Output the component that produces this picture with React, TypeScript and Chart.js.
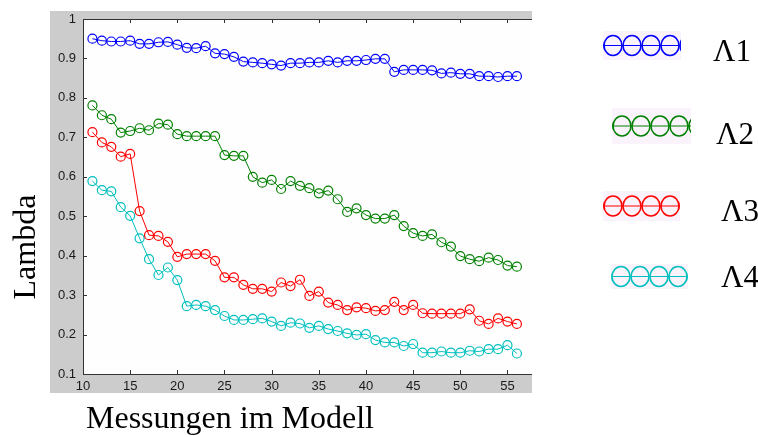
import { useEffect, useRef } from 'react';
import { Chart, registerables } from 'chart.js';

Chart.register(...registerables);

// Measurement index (x axis)
const MEASUREMENTS = [
  11, 12, 13, 14, 15, 16, 17, 18, 19, 20, 21, 22, 23, 24, 25, 26, 27, 28, 29, 30, 31, 32, 33,
  34, 35, 36, 37, 38, 39, 40, 41, 42, 43, 44, 45, 46, 47, 48, 49, 50, 51, 52, 53, 54, 55, 56,
];

const LAMBDA_1 = [
  0.95, 0.945, 0.943, 0.943, 0.945, 0.937, 0.937, 0.941, 0.942, 0.935, 0.927, 0.926, 0.931,
  0.913, 0.911, 0.904, 0.892, 0.89, 0.888, 0.885, 0.882, 0.888, 0.888, 0.89, 0.89, 0.894,
  0.89, 0.894, 0.894, 0.896, 0.899, 0.899, 0.866, 0.871, 0.871, 0.871, 0.87, 0.862, 0.864,
  0.861, 0.861, 0.855, 0.855, 0.853, 0.855, 0.855,
];

const LAMBDA_2 = [
  0.781, 0.756, 0.746, 0.712, 0.716, 0.723, 0.718, 0.735, 0.732, 0.708, 0.703, 0.703, 0.703,
  0.703, 0.655, 0.653, 0.653, 0.6, 0.585, 0.592, 0.569, 0.589, 0.577, 0.571, 0.558, 0.565,
  0.543, 0.511, 0.52, 0.503, 0.494, 0.494, 0.503, 0.475, 0.457, 0.45, 0.454, 0.434, 0.423,
  0.399, 0.391, 0.386, 0.395, 0.389, 0.375, 0.372,
];

const LAMBDA_3 = [
  0.713, 0.687, 0.676, 0.651, 0.658, 0.513, 0.452, 0.45, 0.435, 0.397, 0.404, 0.404, 0.404,
  0.387, 0.345, 0.345, 0.326, 0.316, 0.316, 0.309, 0.332, 0.323, 0.339, 0.298, 0.309, 0.281,
  0.275, 0.262, 0.269, 0.267, 0.26, 0.262, 0.283, 0.262, 0.275, 0.254, 0.253, 0.253, 0.253,
  0.253, 0.264, 0.235, 0.227, 0.241, 0.233, 0.227,
];

const LAMBDA_4 = [
  0.589, 0.566, 0.563, 0.523, 0.501, 0.444, 0.391, 0.351, 0.37, 0.338, 0.272, 0.275, 0.272,
  0.262, 0.247, 0.237, 0.237, 0.239, 0.241, 0.233, 0.222, 0.23, 0.228, 0.217, 0.222, 0.214,
  0.209, 0.203, 0.199, 0.201, 0.186, 0.18, 0.18, 0.171, 0.176, 0.154, 0.154, 0.157, 0.154,
  0.154, 0.159, 0.157, 0.163, 0.163, 0.173, 0.152,
];

const SERIES_NAMES = ['Λ1', 'Λ2', 'Λ3', 'Λ4'];
const SERIES_VALUES = [LAMBDA_1, LAMBDA_2, LAMBDA_3, LAMBDA_4];
const SERIES_COLORS = ['#0000ff', '#008000', '#ff0000', '#00bfbf'];

const X_TICKS = [10, 15, 20, 25, 30, 35, 40, 45, 50, 55];
const Y_TICKS = [0.1, 0.2, 0.3, 0.4, 0.5, 0.6, 0.7, 0.8, 0.9, 1];

const X_TITLE = 'Messungen im Modell';
const Y_TITLE = 'Lambda';

const TICK_FONT = { family: '"Liberation Sans", Arial, sans-serif', size: 13 };
const SERIF = '"Liberation Serif", "Times New Roman", serif';

// Legend swatches placed down the right-hand side
const LEGEND_BOXES = [
  { x: 603, y: 31, w: 78, h: 29, label: { x: 713, y: 61 } },
  { x: 612, y: 108, w: 79, h: 36, label: { x: 716, y: 144 } },
  { x: 603, y: 191, w: 77, h: 30, label: { x: 721, y: 221 } },
  { x: 611, y: 264, w: 77, h: 25, label: { x: 721, y: 287 } },
];

const framePlugin = {
  id: 'frame',
  beforeDraw(chart: any) {
    const { ctx, chartArea: a } = chart;
    ctx.save();
    ctx.fillStyle = '#ffffff';
    ctx.fillRect(0, 0, chart.width, chart.height);
    ctx.fillStyle = '#cccccc';
    ctx.fillRect(50, 11, a.right - 50, 393 - 11);
    ctx.fillStyle = '#fefefe';
    ctx.fillRect(a.left, a.top, a.right - a.left, a.bottom - a.top);
    ctx.restore();
  },
  afterDraw(chart: any) {
    const { ctx, chartArea: a, scales } = chart;
    const xs = scales.x;
    const ys = scales.y;
    ctx.save();

    // axes with inward ticks
    ctx.strokeStyle = '#333333';
    ctx.lineWidth = 1;
    ctx.beginPath();
    ctx.moveTo(a.left + 0.5, a.top);
    ctx.lineTo(a.left + 0.5, a.bottom + 0.5);
    ctx.lineTo(a.right, a.bottom + 0.5);
    ctx.moveTo(a.left, a.top + 0.5);
    ctx.lineTo(a.right, a.top + 0.5);
    for (const v of X_TICKS) {
      const px = Math.round(xs.getPixelForValue(v)) + 0.5;
      ctx.moveTo(px, a.bottom);
      ctx.lineTo(px, a.bottom - 4);
      ctx.moveTo(px, a.top);
      ctx.lineTo(px, a.top + 4);
    }
    for (const v of Y_TICKS) {
      const py = Math.round(ys.getPixelForValue(v)) + 0.5;
      ctx.moveTo(a.left, py);
      ctx.lineTo(a.left + 4, py);
    }
    ctx.stroke();

    // legend swatches: a line threaded through a chain of circles
    LEGEND_BOXES.forEach((b, i) => {
      const color = SERIES_COLORS[i];
      const cy = b.y + b.h / 2;
      ctx.save();
      ctx.beginPath();
      ctx.rect(b.x, b.y, b.w, b.h);
      ctx.clip();
      ctx.fillStyle = '#fbf3fb';
      ctx.fillRect(b.x, b.y, b.w, b.h);
      ctx.strokeStyle = color;
      ctx.lineWidth = 1.2;
      ctx.beginPath();
      ctx.moveTo(b.x, cy);
      ctx.lineTo(b.x + b.w, cy);
      ctx.stroke();
      ctx.lineWidth = 1.6;
      for (let k = -1; k < 5; k++) {
        const cx = b.x + 10 + k * 19;
        ctx.beginPath();
        ctx.ellipse(cx, cy, 9, 10, 0, 0, Math.PI * 2);
        ctx.stroke();
      }
      ctx.restore();
      ctx.fillStyle = '#000000';
      ctx.font = `31px ${SERIF}`;
      ctx.textAlign = 'left';
      ctx.textBaseline = 'alphabetic';
      ctx.fillText(SERIES_NAMES[i], b.label.x, b.label.y);
    });

    // axis titles
    ctx.fillStyle = '#000000';
    ctx.font = `32px ${SERIF}`;
    ctx.textAlign = 'left';
    ctx.textBaseline = 'alphabetic';
    ctx.fillText(X_TITLE, 86, 428);

    ctx.save();
    ctx.translate(35, 247);
    ctx.rotate(-Math.PI / 2);
    ctx.font = `32px ${SERIF}`;
    ctx.textAlign = 'center';
    ctx.fillText(Y_TITLE, 0, 0);
    ctx.restore();

    ctx.restore();
  },
};

export default function App() {
  const ref = useRef<HTMLCanvasElement>(null);

  useEffect(() => {
    document.body.style.margin = '0';
    const canvas = ref.current;
    if (!canvas) return;

    const chart = new Chart(canvas, {
      type: 'line',
      data: {
        datasets: SERIES_VALUES.map((vals, i) => ({
          label: SERIES_NAMES[i],
          data: MEASUREMENTS.map((x, j) => ({ x, y: vals[j] })),
          borderColor: SERIES_COLORS[i],
          borderWidth: 1,
          pointRadius: 4.5,
          pointBorderWidth: 1.2,
          pointBorderColor: SERIES_COLORS[i],
          pointBackgroundColor: 'rgba(0,0,0,0)',
          tension: 0,
          fill: false,
        })),
      },
      options: {
        responsive: false,
        animation: false,
        events: [],
        layout: { padding: { top: 19, right: 226, left: 0, bottom: 0 } },
        plugins: { legend: { display: false }, tooltip: { enabled: false } },
        scales: {
          x: {
            type: 'linear',
            min: 10,
            max: 57.6,
            afterBuildTicks: (s: any) => {
              s.ticks = X_TICKS.map((value) => ({ value }));
            },
            afterFit: (s: any) => {
              s.height = 63;
            },
            grid: { display: false, drawTicks: false },
            border: { display: false },
            ticks: {
              padding: 5,
              color: '#1a1a1a',
              font: TICK_FONT,
              maxRotation: 0,
              autoSkip: false,
              callback: (v: any) => String(v),
            },
          },
          y: {
            type: 'linear',
            min: 0.1,
            max: 1,
            afterBuildTicks: (s: any) => {
              s.ticks = Y_TICKS.map((value) => ({ value }));
            },
            afterFit: (s: any) => {
              s.width = 83;
            },
            grid: { display: false, drawTicks: false },
            border: { display: false },
            ticks: {
              padding: 7,
              color: '#1a1a1a',
              font: TICK_FONT,
              autoSkip: false,
              callback: (v: any) => (Number(v) === 1 ? '1' : Number(v).toFixed(1)),
            },
          },
        },
      },
      plugins: [framePlugin],
    });

    return () => chart.destroy();
  }, []);

  return <canvas ref={ref} width={758} height={437} style={{ display: 'block' }} />;
}
